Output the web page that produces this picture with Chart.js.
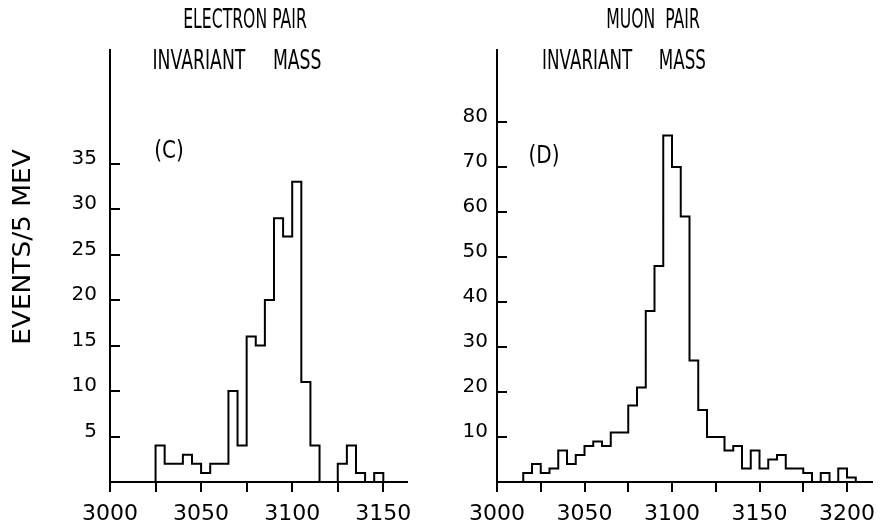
<!DOCTYPE html>
<html>
<head>
<meta charset="utf-8">
<script src="https://cdn.jsdelivr.net/npm/chart.js@4.4.1/dist/chart.umd.min.js"></script>
<style>
  html, body { margin: 0; padding: 0; background: #fff; }
  #wrap { position: relative; width: 884px; height: 527px; }
  canvas { position: absolute; top: 0; }
  #electron-canvas { left: 0; }
  #muon-canvas { left: 442px; }
</style>
</head>
<body>
<div id="wrap">
  <canvas id="electron-canvas" width="442" height="527"></canvas>
  <canvas id="muon-canvas" width="442" height="527"></canvas>
</div>
<script>
// bin left edges (MeV) and counts per 5 MeV bin
const electronMass = [
  3000, 3005, 3010, 3015, 3020, 3025, 3030, 3035, 3040, 3045, 3050,
  3055, 3060, 3065, 3070, 3075, 3080, 3085, 3090, 3095, 3100, 3105,
  3110, 3115, 3120, 3125, 3130, 3135, 3140, 3145, 3150, 3155, 3160,
];
const electronCounts = [
  0, 0, 0, 0, 0, 4, 2, 2, 3, 2, 1,
  2, 2, 10, 4, 16, 15, 20, 29, 27, 33, 11,
  4, 0, 0, 2, 4, 1, 0, 1, 0, 0, 0,
];

const muonMass = [
  3000, 3005, 3010, 3015, 3020, 3025, 3030, 3035, 3040, 3045, 3050,
  3055, 3060, 3065, 3070, 3075, 3080, 3085, 3090, 3095, 3100, 3105,
  3110, 3115, 3120, 3125, 3130, 3135, 3140, 3145, 3150, 3155, 3160,
  3165, 3170, 3175, 3180, 3185, 3190, 3195, 3200, 3205, 3210,
];
const muonCounts = [
  0, 0, 0, 2, 4, 2, 3, 7, 4, 6, 8,
  9, 8, 11, 11, 17, 21, 38, 48, 77, 70, 59,
  27, 16, 10, 10, 7, 8, 3, 7, 3, 5, 6,
  3, 3, 2, 0, 2, 0, 3, 1, 0, 0,
];

const electronXTicks = [3000, 3025, 3050, 3075, 3100, 3125, 3150];
const electronXLabels = ["3000", "", "3050", "", "3100", "", "3150"];
const muonXTicks = [3000, 3025, 3050, 3075, 3100, 3125, 3150, 3175, 3200];
const muonXLabels = ["3000", "", "3050", "", "3100", "", "3150", "", "3200"];

const electronYTicks = [5, 10, 15, 20, 25, 30, 35];
const muonYTicks = [10, 20, 30, 40, 50, 60, 70, 80];

Chart.defaults.font.family = "'DejaVu Sans', sans-serif";
Chart.defaults.color = "#000";

// free text drawn on the canvas: titles, panel letters, axis name
const panelText = {
  id: "panelText",
  afterDraw(chart, args, opts) {
    const ctx = chart.ctx;
    (opts.items || []).forEach(({ text, x, y, size, squeeze = 1, rotate = 0 }) => {
      ctx.save();
      ctx.translate(x, y);
      ctx.rotate(rotate);
      ctx.scale(squeeze, 1);
      ctx.font = `${size}px 'DejaVu Sans', sans-serif`;
      ctx.fillStyle = "#000";
      ctx.textAlign = "center";
      ctx.textBaseline = "middle";
      ctx.fillText(text, 0, 0);
      ctx.restore();
    });
  },
};

const renderHistogram = ({
  canvasId,
  mass,
  counts,
  xMax,
  yMax,
  xTicks,
  xLabels,
  yTicks,
  yAxisWidth,
  yLabelPad,
  rightPad,
  texts,
}) =>
  new Chart(document.getElementById(canvasId).getContext("2d"), {
    type: "line",
    data: {
      datasets: [
        {
          data: mass.map((m, i) => ({ x: m, y: counts[i] })),
          borderColor: "#000",
          borderWidth: 2,
          pointRadius: 0,
          stepped: "before",
          fill: false,
        },
      ],
    },
    plugins: [panelText],
    options: {
      responsive: false,
      animation: false,
      layout: { padding: { left: 0, top: 50, right: rightPad, bottom: 0 } },
      scales: {
        x: {
          type: "linear",
          min: 3000,
          max: xMax,
          afterFit: (scale) => {
            scale.height = 45;
          },
          afterBuildTicks: (scale) => {
            scale.ticks = xTicks.map((value) => ({ value }));
          },
          border: { display: true, color: "#000", width: 2 },
          grid: { drawOnChartArea: false, tickLength: 10, color: "#000", lineWidth: 2 },
          ticks: {
            padding: 9,
            autoSkip: false,
            maxRotation: 0,
            includeBounds: false,
            font: { size: 22 },
            callback: (v, i) => xLabels[i],
          },
        },
        y: {
          min: 0,
          max: yMax,
          afterFit: (scale) => {
            scale.width = yAxisWidth;
          },
          afterBuildTicks: (scale) => {
            scale.ticks = yTicks.map((value) => ({ value }));
          },
          border: { display: true, color: "#000", width: 2 },
          // negative length puts the tick marks inside the plot
          grid: { drawOnChartArea: false, tickLength: -10, color: "#000", lineWidth: 2 },
          ticks: {
            padding: yLabelPad,
            labelOffset: -5,
            autoSkip: false,
            includeBounds: false,
            font: { size: 20 },
            callback: (v, i) => String(yTicks[i]),
          },
        },
      },
      plugins: {
        legend: { display: false },
        tooltip: { enabled: false },
        panelText: { items: texts },
      },
    },
  });

renderHistogram({
  canvasId: "electron-canvas",
  mass: electronMass,
  counts: electronCounts,
  xMax: 3163,
  yMax: 47.5,
  xTicks: electronXTicks,
  xLabels: electronXLabels,
  yTicks: electronYTicks,
  yAxisWidth: 110,
  yLabelPad: 23,
  rightPad: 35,
  texts: [
    { text: "ELECTRON PAIR", x: 245, y: 21, size: 27, squeeze: 0.58 },
    { text: "INVARIANT     MASS", x: 237, y: 62, size: 27, squeeze: 0.64 },
    { text: "(C)", x: 169, y: 151, size: 25, squeeze: 0.8 },
    { text: "EVENTS/5 MEV", x: 24, y: 247, size: 24, squeeze: 1.1, rotate: -Math.PI / 2 },
  ],
});

renderHistogram({
  canvasId: "muon-canvas",
  mass: muonMass,
  counts: muonCounts,
  xMax: 3214,
  yMax: 96,
  xTicks: muonXTicks,
  xLabels: muonXLabels,
  yTicks: muonYTicks,
  yAxisWidth: 55,
  yLabelPad: 19,
  rightPad: 0,
  texts: [
    { text: "MUON  PAIR", x: 211, y: 21, size: 27, squeeze: 0.58 },
    { text: "INVARIANT     MASS", x: 182, y: 62, size: 27, squeeze: 0.62 },
    { text: "(D)", x: 102, y: 156, size: 25, squeeze: 0.8 },
  ],
});
</script>
</body>
</html>
